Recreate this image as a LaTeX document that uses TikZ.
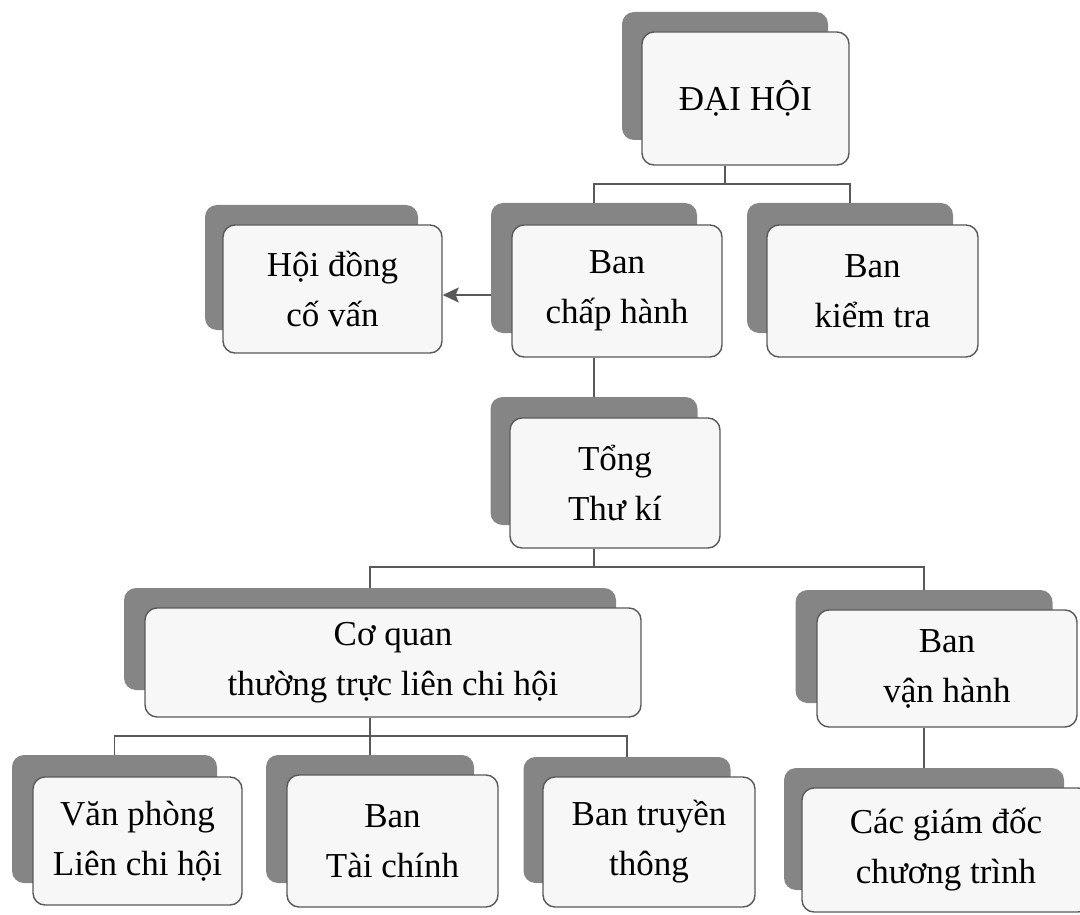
\documentclass[tikz,border=0pt]{standalone}
\usepackage{fontspec}
\setmainfont{Liberation Serif}
\usetikzlibrary{arrows.meta}
\begin{document}
\begin{tikzpicture}[x=1pt,y=-1pt,
  shbox/.style={fill=black!48, rounded corners=12pt, inner sep=0pt},
  frbox/.style={draw=black!65, line width=1.4pt, fill=black!3, rounded corners=12pt,
    align=center, inner sep=0pt, font=\fontsize{35}{50}\selectfont},
  conn/.style={draw=black!65, line width=1.3pt}]
\useasboundingbox (0,0) rectangle (1080,915);
\clip (0,0) rectangle (1080,915);
% level 0
\node[shbox, minimum width=206pt, minimum height=128pt] (dh-s) at (725,76) {};
\node[frbox, minimum width=207pt, minimum height=133pt] (dh) at (745.5,98.5) {ĐẠI HỘI};
% level 1
\node[shbox, minimum width=213pt, minimum height=125pt] (hd-s) at (311.5,267.5) {};
\node[frbox, minimum width=219pt, minimum height=128pt] (hd) at (332.5,289) {Hội đồng\\cố vấn};
\node[shbox, minimum width=206pt, minimum height=130pt] (bch-s) at (594,268) {};
\node[frbox, minimum width=210pt, minimum height=132pt] (bch) at (617,291) {Ban\\chấp hành};
\node[shbox, minimum width=206pt, minimum height=130pt] (bkt-s) at (850,268) {};
\node[frbox, minimum width=211pt, minimum height=132pt] (bkt) at (872.5,291) {Ban\\kiểm tra};
% level 2
\node[shbox, minimum width=207pt, minimum height=128pt] (tk-s) at (594,461) {};
\node[frbox, minimum width=210pt, minimum height=130pt] (tk) at (615,483) {Tổng\\Thư kí};
% level 3
\node[shbox, minimum width=492pt, minimum height=102pt] (cq-s) at (370,639) {};
\node[frbox, minimum width=496pt, minimum height=109pt] (cq) at (393,662.5) {Cơ quan\\thường trực liên chi hội};
\node[shbox, minimum width=257pt, minimum height=113pt] (bvh-s) at (924,646.5) {};
\node[frbox, minimum width=260pt, minimum height=117pt] (bvh) at (947,668.5) {Ban\\vận hành};
% level 4
\node[shbox, minimum width=205pt, minimum height=128pt] (vp-s) at (114.5,819) {};
\node[frbox, minimum width=209pt, minimum height=128pt] (vp) at (137.5,841) {Văn phòng\\Liên chi hội};
\node[shbox, minimum width=208pt, minimum height=128pt] (tc-s) at (370,819) {};
\node[frbox, minimum width=211pt, minimum height=132pt] (tc) at (392.5,841) {Ban\\Tài chính};
\node[shbox, minimum width=207pt, minimum height=126pt] (tt-s) at (627,820) {};
\node[frbox, minimum width=212pt, minimum height=130pt] (tt) at (649,842) {Ban truyền\\thông};
\node[shbox, minimum width=280pt, minimum height=122pt] (gd-s) at (924,829) {};
\node[frbox, minimum width=288pt, minimum height=124pt] (gd) at (946,850) {Các giám đốc\\chương trình};
% junction levels
\coordinate (j1) at (0,184);
\coordinate (j2) at (0,567);
\coordinate (j3) at (0,736);
\coordinate (ae) at ([yshift=-6pt]hd.east);
% connectors
\draw[conn] (dh.south -| dh-s.south) -- (j1 -| dh-s.south);
\draw[conn] (bch-s.north) |- (j1 -| dh-s.south) -| (bkt-s.north);
\draw[conn, -{Stealth[length=16pt,width=15pt,inset=3pt]}] (ae -| bch-s.west) -- (ae);
\draw[conn] (bch.south -| tk-s.north) -- (tk-s.north);
\draw[conn] (tk.south -| tk-s.south) -- (j2 -| tk-s.south);
\draw[conn] (cq-s.north) |- (j2 -| tk-s.south) -| (bvh-s.north);
\draw[conn] (cq.south -| cq-s.south) -- (j3 -| cq-s.south);
\draw[conn] (vp-s.north) |- (j3 -| cq-s.south) -| (tt-s.north);
\draw[conn] (tc-s.north) -- (j3 -| tc-s.north);
\draw[conn] (bvh.south -| bvh-s.south) -- (gd-s.north);
\end{tikzpicture}
\end{document}
